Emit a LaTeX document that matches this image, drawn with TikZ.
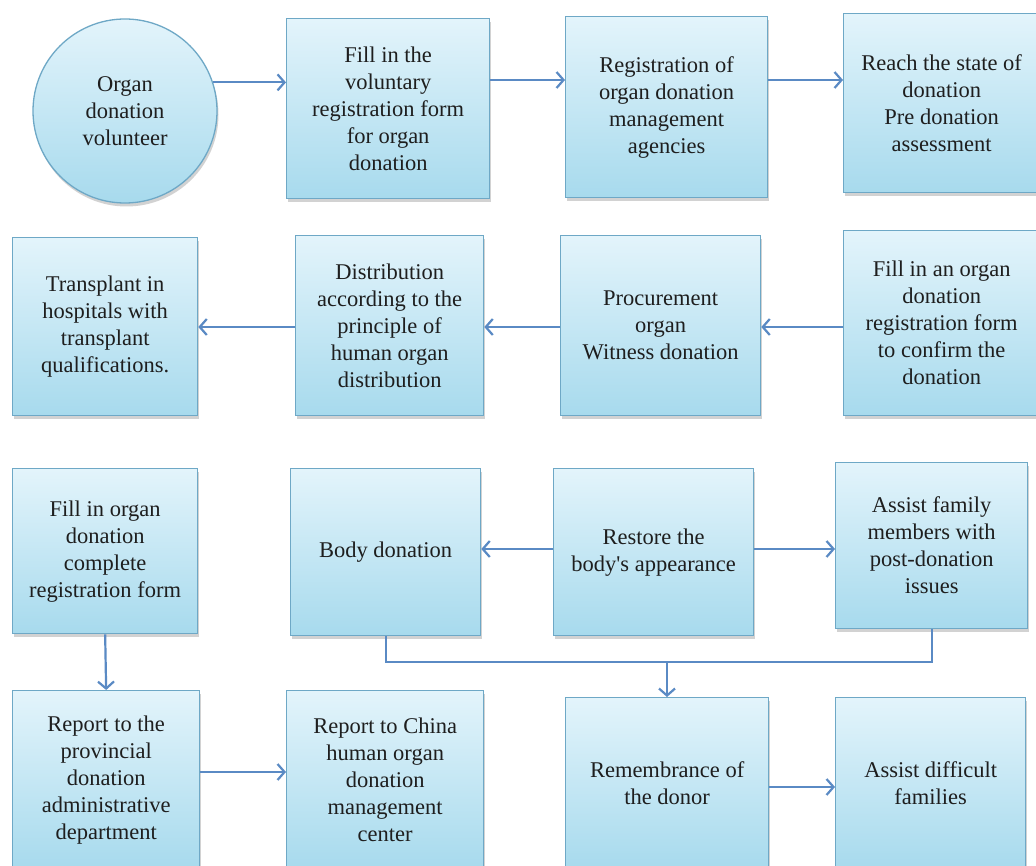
\documentclass[tikz,border=0pt]{standalone}
\usepackage{fontspec}
\setmainfont{Liberation Serif}
\usetikzlibrary{arrows.meta,shadows}
\definecolor{boxtop}{HTML}{E3F4FB}
\definecolor{boxbot}{HTML}{A7DAED}
\definecolor{boxline}{HTML}{6EA8C6}
\definecolor{flow}{HTML}{5A8AC4}
\definecolor{ink}{HTML}{1E1E1E}
\begin{document}
\begin{tikzpicture}[x=1pt,y=-1pt,
  shaded/.style={draw=boxline, line width=1.3pt, top color=boxtop, bottom color=boxbot,
    drop shadow={shadow xshift=1.5pt, shadow yshift=-3.5pt, opacity=0.35},
    align=center, text=ink, inner sep=0pt,
    font=\fontsize{22.5}{27}\selectfont},
  stepbox/.style={shaded, rectangle, anchor=north west},
  startcircle/.style={shaded, circle, minimum size=184pt},
  link/.style={draw=flow, line width=2.2pt},
  arr/.style={link, -{Straight Barb[length=7pt,width=16pt]}}
]
\useasboundingbox[fill=white] (0,0) rectangle (1036,866);

% row 1: registration
\node[startcircle] (vol) at (125,111) {Organ\\donation\\volunteer};
\node[stepbox, minimum width=203pt, minimum height=180pt] (form) at (286,18)
  {Fill in the\\voluntary\\registration form\\for organ\\donation};
\node[stepbox, minimum width=202pt, minimum height=181pt] (agency) at (565,16)
  {Registration of\\organ donation\\management\\agencies};
\node[stepbox, minimum width=196pt, minimum height=179pt] (state) at (843,13)
  {Reach the state of\\donation\\Pre donation\\assessment};

% row 2: procurement and allocation
\node[stepbox, minimum width=185pt, minimum height=178pt] (transplant) at (12,237)
  {Transplant in\\hospitals with\\transplant\\qualifications.};
\node[stepbox, minimum width=188pt, minimum height=180pt] (distrib) at (295,235)
  {Distribution\\according to the\\principle of\\human organ\\distribution};
\node[stepbox, minimum width=200pt, minimum height=180pt] (procure) at (560,235)
  {Procurement\\organ\\Witness donation};
\node[stepbox, minimum width=196pt, minimum height=185pt] (confirm) at (843,230)
  {Fill in an organ\\donation\\registration form\\to confirm the\\donation};

% row 3: after donation
\node[stepbox, minimum width=185pt, minimum height=165pt] (complete) at (12,468)
  {Fill in organ\\donation\\complete\\registration form};
\node[stepbox, minimum width=190pt, minimum height=167pt] (body) at (290,468)
  {Body donation};
\node[stepbox, minimum width=200pt, minimum height=167pt] (restore) at (553,468)
  {Restore the\\body\textquotesingle s appearance};
\node[stepbox, minimum width=192pt, minimum height=166pt] (assist) at (835,462)
  {Assist family\\members with\\post-donation\\issues};

% row 4: reporting and remembrance
\node[stepbox, minimum width=187pt, minimum height=178pt] (province) at (12,690)
  {Report to the\\provincial\\donation\\administrative\\department};
\node[stepbox, minimum width=197pt, minimum height=178pt] (china) at (286,690)
  {Report to China\\human organ\\donation\\management\\center};
\node[stepbox, minimum width=203pt, minimum height=171pt] (remember) at (565,697)
  {Remembrance of\\the donor};
\node[stepbox, minimum width=190pt, minimum height=171pt] (difficult) at (835,697)
  {Assist difficult\\families};

% connector heights
\coordinate (r1) at (0,80);
\coordinate (r2) at (0,327);
\coordinate (r3) at (0,549);
\coordinate (r4a) at (0,772);
\coordinate (r4b) at (0,787);
\coordinate (merge) at (667,662);

\draw[arr] (vol.18) -- (form.west |- vol.18);
\draw[arr] (form.east |- r1) -- (agency.west |- r1);
\draw[arr] (agency.east |- r1) -- (state.west |- r1);

\draw[arr] (confirm.west |- r2) -- (procure.east |- r2);
\draw[arr] (procure.west |- r2) -- (distrib.east |- r2);
\draw[arr] (distrib.west |- r2) -- (transplant.east |- r2);

\draw[arr] (restore.west |- r3) -- (body.east |- r3);
\draw[arr] (restore.east |- r3) -- (assist.west |- r3);

\draw[link] (body.south) |- (merge) -| (assist.south);
\draw[arr] (merge) -- (remember.north -| merge);

\draw[arr] (complete.south) -- (province.north);
\draw[arr] (province.east |- r4a) -- (china.west |- r4a);
\draw[arr] (remember.east |- r4b) -- (difficult.west |- r4b);
\end{tikzpicture}
\end{document}
